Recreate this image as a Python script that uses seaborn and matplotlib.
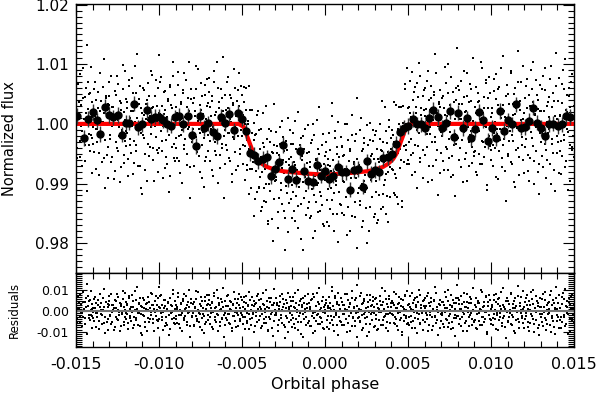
import matplotlib
matplotlib.use("Agg")
import matplotlib.pyplot as plt
import numpy as np
import pandas as pd
import seaborn as sns
from matplotlib.ticker import MultipleLocator, FormatStrFormatter

# Transit model
model_phase = [-0.015, -0.0052, -0.0049, -0.0047, -0.0045, -0.0043, -0.0041, -0.0038, -0.0035,
               -0.0030, -0.0025, -0.0020, -0.0010, 0.0, 0.0010, 0.0020, 0.0025, 0.0030, 0.0035,
               0.0038, 0.0041, 0.0043, 0.0045, 0.0047, 0.0049, 0.0052, 0.015]
model_flux = [1.0, 1.0, 0.9995, 0.9980, 0.9965, 0.9950, 0.9941, 0.9933, 0.9928,
              0.9923, 0.99205, 0.9919, 0.99165, 0.9915, 0.99165, 0.9919, 0.99205, 0.9923, 0.9928,
              0.9933, 0.9941, 0.9950, 0.9965, 0.9980, 0.9995, 1.0, 1.0]

# Binned points (big black dots)
bin_phase = [-0.01494, -0.0145, -0.01426, -0.0140, -0.01375, -0.01353, -0.01325, -0.0130, -0.01275,
             -0.0125, -0.01225, -0.0120, -0.01179, -0.01153, -0.01124, -0.01102, -0.01074, -0.0105,
             -0.01026, -0.0100, -0.00978, -0.00954, -0.00928, -0.00904,
             -0.00878, -0.00853, -0.00827, -0.00801, -0.00777, -0.00753, -0.00727, -0.00703, -0.00677,
             -0.00653, -0.00627, -0.00601, -0.00576, -0.0055, -0.00524, -0.0050, -0.00476, -0.00452,
             -0.00426, -0.00402, -0.00375, -0.00351, -0.00325, -0.00301,
             -0.00279, -0.00251, -0.00225, -0.00199, -0.00175, -0.00151, -0.00124, -0.0010, -0.00074,
             -0.00048, -0.00024, 0.00002, 0.00026, 0.0005, 0.00076, 0.0010, 0.00126, 0.0015,
             0.00176, 0.00201, 0.00227, 0.00251, 0.00277,
             0.00301, 0.00323, 0.00351, 0.00377, 0.00404, 0.00428, 0.00452, 0.00478, 0.00502, 0.00528,
             0.00552, 0.00578, 0.00604, 0.00628, 0.00653, 0.00679, 0.00703, 0.00729, 0.00753,
             0.00779, 0.00803, 0.00829, 0.00853, 0.00879, 0.00904,
             0.00926, 0.0095, 0.0098, 0.01004, 0.0103, 0.01054, 0.01078, 0.01104, 0.01126,
             0.01153, 0.01179, 0.01203, 0.01227, 0.01251, 0.01277, 0.01303, 0.01327, 0.01351,
             0.01375, 0.01402, 0.01428, 0.01452, 0.01478]
bin_flux = [1.0013, 0.9976, 1.0008, 1.0020, 1.0006, 0.9983, 1.0029, 1.0015, 1.0011,
            1.0015, 0.9982, 1.0002, 1.0002, 1.0034, 0.9994, 0.9999, 1.0023, 1.0008,
            1.0012, 1.0012, 1.0006, 0.9999, 0.9997, 1.0011,
            1.0013, 0.9999, 1.0013, 0.9981, 0.9963, 1.0014, 0.9993, 1.0001, 0.9986,
            0.9980, 1.0012, 1.0001, 1.0016, 0.9989, 1.0018, 1.0009, 0.9988, 0.9951,
            0.9948, 0.9938, 0.9941, 0.9944, 0.9912, 0.9924,
            0.99356, 0.99644, 0.99078, 0.99244, 0.99067, 0.99539, 0.99217, 0.99039, 0.99033,
            0.99317, 0.99133, 0.99206, 0.99078, 0.99133, 0.99272, 0.99189, 0.99189, 0.98900,
            0.99228, 0.99244, 0.98950, 0.99372, 0.99161,
            0.99228, 0.99189, 0.99422, 0.99439, 0.99494, 0.99661, 0.99856, 0.99939, 0.99967, 1.00078,
            0.99994, 0.99994, 0.99939, 1.00106, 1.00233, 1.00117, 0.99928, 1.00022, 1.00217,
            0.99783, 1.00189, 0.99928, 1.00094, 0.99761, 0.99911,
            1.00206, 1.00061, 0.99717, 0.99928, 0.99756, 1.00217, 0.99883, 1.00061, 0.99994,
            1.00328, 0.99939, 0.99950, 1.00050, 1.00272, 1.00022, 0.99928, 0.99800, 0.99994,
            1.00006, 0.99967, 0.99994, 1.00133, 1.00117]
bin_err = 0.0013

# Individual measurements: phase (units of 1e-4) and residual from the model (units of 1e-4)
raw_phase_e4 = [
    -149.8, -149.3, -148.7, -148.2, -147.6, -147.1, -146.4, -145.9, -145.5, -144.8, -144.3, -143.9, -143.2, -142.6, -142.1, -141.7, -141.0, -140.6, -140.3, -140.1,
    -139.7, -139.2, -138.8, -138.1, -137.7, -137.2, -136.5, -136.1, -135.4, -135.0, -134.6, -133.9, -133.3, -132.9, -132.4, -131.8, -131.3, -130.9, -130.5, -130.2,
    -129.9, -129.4, -128.9, -128.3, -127.8, -127.4, -126.7, -126.2, -125.8, -125.3, -124.7, -124.2, -123.6, -123.1, -122.7, -122.0, -121.6, -121.1, -120.7, -120.2,
    -119.8, -119.2, -118.7, -118.3, -117.7, -117.2, -116.8, -116.1, -115.6, -115.2, -114.6, -114.1, -113.7, -113.0, -112.5, -112.1, -111.4, -111.0, -110.6, -110.1,
    -109.7, -109.3, -108.8, -108.2, -107.6, -107.2, -106.7, -106.3, -105.6, -105.1, -104.7, -104.1, -103.6, -103.2, -102.7, -102.1, -101.5, -101.1, -100.6, -100.2,
    -99.8, -99.4, -98.7, -98.2, -97.8, -97.3, -96.6, -96.2, -95.7, -95.1, -94.7, -94.2, -93.6, -93.1, -92.7, -92.2, -91.5, -91.1, -90.6, -90.3,
    -89.9, -89.3, -88.9, -88.4, -87.8, -87.3, -86.9, -86.2, -85.7, -85.2, -84.8, -84.3, -83.7, -83.1, -82.6, -82.2, -81.7, -81.1, -80.7, -80.2,
    -79.8, -79.2, -78.8, -78.3, -77.7, -77.3, -76.8, -76.2, -75.6, -75.2, -74.7, -74.1, -73.7, -73.2, -72.6, -72.1, -71.7, -71.2, -70.6, -70.2,
    -69.7, -69.3, -68.7, -68.2, -67.8, -67.3, -66.7, -66.2, -65.8, -65.3, -64.7, -64.2, -63.8, -63.2, -62.7, -62.2, -61.8, -61.3, -60.8, -60.2,
    -59.8, -59.3, -58.7, -58.3, -57.8, -57.2, -56.8, -56.3, -55.7, -55.2, -54.8, -54.3, -53.8, -53.2, -52.7, -52.3, -51.8, -51.2, -50.8, -50.3,
    -49.7, -49.2, -48.8, -48.3, -47.7, -47.3, -46.8, -46.2, -45.8, -45.3, -44.7, -44.2, -43.8, -43.3, -42.8, -42.2, -41.7, -41.3, -40.8, -40.2,
    -39.8, -39.2, -38.7, -38.3, -37.8, -37.2, -36.8, -36.3, -35.7, -35.3, -34.8, -34.3, -33.7, -33.2, -32.8, -32.2, -31.7, -31.3, -30.8, -30.3,
    -29.7, -29.3, -28.8, -28.2, -27.7, -27.3, -26.8, -26.2, -25.8, -25.3, -24.7, -24.2, -23.8, -23.3, -22.8, -22.2, -21.8, -21.3, -20.7, -20.2,
    -19.8, -19.3, -18.7, -18.2, -17.8, -17.3, -16.7, -16.2, -15.8, -15.3, -14.7, -14.2, -13.8, -13.3, -12.8, -12.2, -11.8, -11.3, -10.7, -10.2,
    -9.7, -9.3, -8.8, -8.2, -7.7, -7.3, -6.8, -6.3, -5.7, -5.2, -4.8, -4.3, -3.7, -3.2, -2.8, -2.3, -1.8, -1.2, -0.7, -0.3,
    0.2, 0.7, 1.3, 1.8, 2.2, 2.7, 3.3, 3.8, 4.2, 4.7, 5.3, 5.7, 6.2, 6.8, 7.2, 7.7, 8.3, 8.8, 9.2, 9.7,
    10.3, 10.8, 11.2, 11.7, 12.3, 12.8, 13.2, 13.7, 14.3, 14.8, 15.2, 15.7, 16.3, 16.8, 17.2, 17.8, 18.3, 18.7, 19.2, 19.8,
    20.2, 20.8, 21.3, 21.7, 22.2, 22.8, 23.3, 23.7, 24.2, 24.8, 25.3, 25.7, 26.2, 26.8, 27.3, 27.7, 28.2, 28.8, 29.3, 29.7,
    30.3, 30.7, 31.2, 31.8, 32.3, 32.7, 33.2, 33.8, 34.3, 34.7, 35.2, 35.8, 36.2, 36.7, 37.3, 37.8, 38.2, 38.7, 39.3, 39.8,
    40.2, 40.7, 41.3, 41.8, 42.2, 42.7, 43.3, 43.8, 44.2, 44.7, 45.3, 45.8, 46.2, 46.7, 47.3, 47.8, 48.2, 48.7, 49.3, 49.8,
    50.3, 50.8, 51.2, 51.7, 52.3, 52.8, 53.2, 53.7, 54.3, 54.8, 55.2, 55.7, 56.3, 56.8, 57.2, 57.7, 58.3, 58.8, 59.2, 59.7,
    60.2, 60.8, 61.3, 61.7, 62.2, 62.8, 63.3, 63.7, 64.2, 64.8, 65.3, 65.7, 66.2, 66.8, 67.3, 67.7, 68.2, 68.8, 69.3, 69.7,
    70.3, 70.7, 71.2, 71.8, 72.3, 72.7, 73.2, 73.8, 74.3, 74.7, 75.2, 75.8, 76.3, 76.7, 77.2, 77.8, 78.3, 78.7, 79.2, 79.8,
    80.2, 80.8, 81.3, 81.7, 82.2, 82.8, 83.3, 83.7, 84.2, 84.8, 85.3, 85.7, 86.2, 86.8, 87.3, 87.7, 88.2, 88.8, 89.3, 89.7,
    90.3, 90.7, 91.2, 91.8, 92.3, 92.7, 93.2, 93.8, 94.3, 94.7, 95.2, 95.8, 96.3, 96.7, 97.2, 97.8, 98.3, 98.7, 99.2, 99.8,
    100.2, 100.8, 101.3, 101.7, 102.2, 102.8, 103.3, 103.7, 104.2, 104.8, 105.3, 105.7, 106.2, 106.8, 107.3, 107.7, 108.2, 108.8, 109.3, 109.7,
    110.3, 110.7, 111.2, 111.8, 112.3, 112.7, 113.2, 113.8, 114.3, 114.7, 115.2, 115.8, 116.3, 116.7, 117.2, 117.8, 118.3, 118.7, 119.2, 119.8,
    120.2, 120.8, 121.3, 121.7, 122.2, 122.8, 123.3, 123.7, 124.2, 124.8, 125.3, 125.7, 126.2, 126.8, 127.3, 127.7, 128.2, 128.8, 129.3, 129.7,
    130.3, 130.7, 131.2, 131.8, 132.3, 132.7, 133.2, 133.8, 134.3, 134.7, 135.2, 135.8, 136.3, 136.7, 137.2, 137.8, 138.3, 138.7, 139.2, 139.8,
    140.2, 140.8, 141.3, 141.7, 142.2, 142.8, 143.3, 143.7, 144.2, 144.8, 145.3, 145.7, 146.2, 146.8, 147.3, 147.7, 148.2, 148.8, 149.3, 149.7,
    # second pass over the phase range
    -149.6, -149.0, -148.5, -147.9, -147.4, -146.8, -146.2, -145.7, -145.1, -144.6, -144.0, -143.5, -142.9, -142.3, -141.9, -141.4, -140.9, -140.8, -140.5, -149.9,
    -139.5, -139.0, -138.4, -137.9, -137.4, -136.8, -136.3, -135.7, -135.2, -134.8, -134.2, -133.6, -133.1, -132.6, -132.1, -131.5, -131.0, -130.7, -130.4, -139.9,
    -129.6, -129.1, -128.6, -128.1, -127.5, -127.0, -126.5, -126.0, -125.5, -125.0, -124.5, -123.9, -123.4, -122.9, -122.4, -121.8, -121.3, -120.9, -120.4, -120.1,
    -119.6, -119.0, -118.5, -118.0, -117.5, -117.0, -116.4, -115.9, -115.4, -114.9, -114.4, -113.9, -113.3, -112.8, -112.3, -111.8, -111.3, -110.8, -110.4, -119.4,
    -109.5, -109.0, -108.5, -108.0, -107.4, -106.9, -106.5, -105.9, -105.4, -104.9, -104.4, -103.9, -103.4, -102.9, -102.4, -101.9, -101.3, -100.8, -100.4, -100.0,
    -99.6, -99.1, -98.5, -98.0, -97.5, -97.0, -96.4, -95.9, -95.4, -94.9, -94.4, -93.9, -93.4, -92.9, -92.4, -91.9, -91.3, -90.9, -90.4, -90.0,
    -89.6, -89.1, -88.6, -88.1, -87.6, -87.0, -86.5, -86.0, -85.5, -85.0, -84.5, -84.0, -83.4, -82.9, -82.4, -81.9, -81.4, -80.9, -80.4, -80.0,
    -79.5, -79.0, -78.5, -78.0, -77.5, -77.0, -76.5, -76.0, -75.4, -74.9, -74.4, -73.9, -73.4, -72.9, -72.4, -71.9, -71.4, -70.9, -70.4, -70.0,
    -69.5, -69.0, -68.5, -68.0, -67.5, -67.0, -66.5, -66.0, -65.5, -65.0, -64.5, -64.0, -63.5, -63.0, -62.5, -62.0, -61.5, -61.0, -60.5, -60.0,
    -59.5, -59.0, -58.5, -58.0, -57.5, -57.0, -56.5, -56.0, -55.5, -55.0, -54.5, -54.0, -53.5, -53.0, -52.5, -52.0, -51.5, -51.0, -50.5, -50.0,
    -49.5, -49.0, -48.5, -48.0, -47.5, -47.0, -46.5, -46.0, -45.5, -45.0, -44.5, -44.0, -43.5, -43.0, -42.5, -42.0, -41.5, -41.0, -40.5, -40.0,
    -39.5, -39.0, -38.5, -38.0, -37.5, -37.0, -36.5, -36.0, -35.5, -35.0, -34.5, -34.0, -33.5, -33.0, -32.5, -32.0, -31.5, -31.0, -30.5, -30.0,
    -29.5, -29.0, -28.5, -28.0, -27.5, -27.0, -26.5, -26.0, -25.5, -25.0, -24.5, -24.0, -23.5, -23.0, -22.5, -22.0, -21.5, -21.0, -20.5, -20.0,
    -19.5, -19.0, -18.5, -18.0, -17.5, -17.0, -16.5, -16.0, -15.5, -15.0, -14.5, -14.0, -13.5, -13.0, -12.5, -12.0, -11.5, -11.0, -10.5, -10.0,
    -9.5, -9.0, -8.5, -8.0, -7.5, -7.0, -6.5, -6.0, -5.5, -5.0, -4.5, -4.0, -3.5, -3.0, -2.5, -2.0, -1.5, -1.0, -0.5, 0.0,
    0.5, 1.0, 1.5, 2.0, 2.5, 3.0, 3.5, 4.0, 4.5, 5.0, 5.5, 6.0, 6.5, 7.0, 7.5, 8.0, 8.5, 9.0, 9.5, 10.0,
    10.5, 11.0, 11.5, 12.0, 12.5, 13.0, 13.5, 14.0, 14.5, 15.0, 15.5, 16.0, 16.5, 17.0, 17.5, 18.0, 18.5, 19.0, 19.5, 20.0,
    20.5, 21.0, 21.5, 22.0, 22.5, 23.0, 23.5, 24.0, 24.5, 25.0, 25.5, 26.0, 26.5, 27.0, 27.5, 28.0, 28.5, 29.0, 29.5, 30.0,
    30.5, 31.0, 31.5, 32.0, 32.5, 33.0, 33.5, 34.0, 34.5, 35.0, 35.5, 36.0, 36.5, 37.0, 37.5, 38.0, 38.5, 39.0, 39.5, 40.0,
    40.5, 41.0, 41.5, 42.0, 42.5, 43.0, 43.5, 44.0, 44.5, 45.0, 45.5, 46.0, 46.5, 47.0, 47.5, 48.0, 48.5, 49.0, 49.5, 50.0,
    50.5, 51.0, 51.5, 52.0, 52.5, 53.0, 53.5, 54.0, 54.5, 55.0, 55.5, 56.0, 56.5, 57.0, 57.5, 58.0, 58.5, 59.0, 59.5, 60.0,
    60.5, 61.0, 61.5, 62.0, 62.5, 63.0, 63.5, 64.0, 64.5, 65.0, 65.5, 66.0, 66.5, 67.0, 67.5, 68.0, 68.5, 69.0, 69.5, 70.0,
    70.5, 71.0, 71.5, 72.0, 72.5, 73.0, 73.5, 74.0, 74.5, 75.0, 75.5, 76.0, 76.5, 77.0, 77.5, 78.0, 78.5, 79.0, 79.5, 80.0,
    80.5, 81.0, 81.5, 82.0, 82.5, 83.0, 83.5, 84.0, 84.5, 85.0, 85.5, 86.0, 86.5, 87.0, 87.5, 88.0, 88.5, 89.0, 89.5, 90.0,
    90.5, 91.0, 91.5, 92.0, 92.5, 93.0, 93.5, 94.0, 94.5, 95.0, 95.5, 96.0, 96.5, 97.0, 97.5, 98.0, 98.5, 99.0, 99.5, 100.0,
    100.5, 101.0, 101.5, 102.0, 102.5, 103.0, 103.5, 104.0, 104.5, 105.0, 105.5, 106.0, 106.5, 107.0, 107.5, 108.0, 108.5, 109.0, 109.5, 110.0,
    110.5, 111.0, 111.5, 112.0, 112.5, 113.0, 113.5, 114.0, 114.5, 115.0, 115.5, 116.0, 116.5, 117.0, 117.5, 118.0, 118.5, 119.0, 119.5, 120.0,
    120.5, 121.0, 121.5, 122.0, 122.5, 123.0, 123.5, 124.0, 124.5, 125.0, 125.5, 126.0, 126.5, 127.0, 127.5, 128.0, 128.5, 129.0, 129.5, 130.0,
    130.5, 131.0, 131.5, 132.0, 132.5, 133.0, 133.5, 134.0, 134.5, 135.0, 135.5, 136.0, 136.5, 137.0, 137.5, 138.0, 138.5, 139.0, 139.5, 140.0,
    140.5, 141.0, 141.5, 142.0, 142.5, 143.0, 143.5, 144.0, 144.5, 145.0, 145.5, 146.0, 146.5, 147.0, 147.5, 148.0, 148.5, 149.0, 149.5, 149.9,
]
raw_resid_e4 = [
    23, -41, 67, 8, -55, 31, -12, 94, -27, 45, -63, 18, 133, 71, -36, 52, -19, 36, -82, 11,
    -33, 58, 14, -76, 40, -9, 27, -48, 85, 3, -21, 62, -58, 19, -107, 44, -2, 33, -39, 71,
    47, -18, -64, 29, 7, -92, 55, -31, 16, 81, -45, -6, 38, -73, 24, -14, 99, -52, 6, -28,
    -12, 36, -87, 63, -25, 10, -49, 77, 21, -66, 4, 52, -35, 118, -9, 41, -71, 26, -15, -118,
    61, -23, 15, -51, 34, -96, 7, 46, -38, 89, -17, 27, -60, 12, -4, 73, -44, 30, -81, 19,
    -41, 16, 79, -28, -3, 53, -74, 24, -56, 11, 42, -19, 65, -88, 31, -7, 104, -33, 48, -62,
    28, -57, 9, 66, -20, -83, 37, -11, 51, -42, 85, -26, 13, -69, 44, -5, 22, -124, 58, -30,
    -8, 44, -70, 21, 97, -37, 5, -53, 32, -15, 68, -91, 17, -24, 49, -63, 2, 76, -46, 35,
    54, -29, 13, -77, 38, -6, 88, -45, 20, -14, 61, -99, 27, -52, 8, 43, -34, 112, -21, -67,
    -36, 71, -15, 26, -58, 49, 3, -84, 35, -22, 92, -47, 14, -9, 57, -71, 30, -40, 66, -18,
    18, -62, 43, -27, 75, -10, -48, 31, -89, 56, 4, -35, 68, -16, 24, -73, 39, -5, -54, 83,
    -44, 22, -81, 57, -13, 36, -60, 9, 101, -29, 47, -95, 15, -38, 63, -7, 28, -120, 41, -19,
    63, -17, 29, -70, 8, 45, -33, 84, -56, 19, -2, -78, 52, -24, 37, -101, 12, 70, -45, 26,
    -21, 48, -64, 13, 86, -39, 5, -93, 31, -11, 59, -52, 22, -128, 40, -6, 75, -30, 17, -58,
    37, -74, 11, 52, -26, -108, 66, -4, 23, -47, 90, -15, 34, -61, 7, -36, 49, -83, 18, 3,
    -9, 55, -42, 26, -87, 14, 41, -23, 97, -66, 3, -31, 72, -18, 45, -115, 29, -50, 10, 62,
    46, -13, -69, 31, 8, -40, 83, -57, 20, -97, 36, -2, 64, -28, 15, -75, 52, -10, 125, -35,
    -27, 71, -48, 6, -92, 38, -16, 57, -34, 13, -121, 44, -7, 80, -61, 25, -3, 49, -79, 19,
    58, -20, 33, -86, 11, -45, 74, -5, 27, -67, 42, -31, 99, -14, -53, 21, -98, 60, -9, 38,
    -15, 41, -58, 92, -30, 17, -74, 35, -8, 66, -42, 24, -103, 53, -19, 9, 78, -36, -63, 30,
    32, -66, 19, -24, 87, -49, 6, 54, -81, 28, -11, 69, -37, 102, -58, 15, -3, 47, -90, 23,
    -52, 25, 72, -17, -98, 40, -6, 63, -31, 11, -71, 48, -22, 86, -44, 7, -119, 34, 56, -13,
    44, -9, -63, 27, 95, -38, 14, -77, 51, -26, 3, 79, -54, 20, -85, 37, -17, 61, -33, 128,
    -23, 56, -40, 9, -73, 33, -4, 88, -59, 21, 46, -95, 13, -30, 67, -12, 39, -66, 5, -47,
    29, -81, 62, -14, 37, -50, 8, 104, -28, -68, 19, 45, -39, 73, -6, -111, 26, -20, 52, -43,
    -61, 18, -35, 76, 3, -89, 42, -17, 58, -46, 25, -8, 93, -72, 31, -26, 11, -129, 47, 65,
    50, -28, 7, -64, 85, -19, 33, -97, 16, 61, -44, -3, 122, -55, 24, -12, 70, -36, 9, -82,
    -38, 64, -11, 27, -79, 48, -57, 5, 91, -24, 36, -101, 15, -46, 73, -2, 40, -68, 21, -15,
    22, -53, 81, -7, -34, 56, -90, 30, -16, 45, 12, -67, 97, -25, -48, 38, 4, -113, 63, -21,
    -30, 77, -45, 14, -84, 35, -2, 59, -27, 108, -62, 20, -13, 46, -96, 28, 71, -39, 9, -55,
    # second pass over the phase range
    -58, 12, 37, -29, 84, -3, -71, 44, 9, -36, 61, -112, 25, -17, 50, -45, 7, 96, -24, 33,
    15, -47, 70, -8, -31, 53, -86, 22, -13, 39, -64, 4, 108, -27, 46, -52, 19, -90, 31, -5,
    -26, 81, -3, -55, 29, 14, -79, 48, -40, 6, 67, -21, -98, 35, -11, 58, -66, 20, 88, -37,
    42, -16, -59, 73, -35, 22, -4, -84, 51, -28, 97, -46, 10, -70, 34, -9, 63, -107, 18, 27,
    -19, 56, -77, 8, 40, -33, 69, -54, 13, -6, 82, -41, 29, -95, 47, -22, 3, 61, -48, 116,
    71, -12, -45, 30, -90, 17, 55, -27, 4, -68, 38, -115, 62, -8, 26, -39, 81, -57, 11, -23,
    -40, 19, 87, -63, 6, 33, -18, -99, 57, -35, 12, 74, -51, 28, -8, 103, -73, 41, -26, -2,
    35, -71, 14, -22, 58, -47, 92, -9, -80, 24, -36, 47, -13, -106, 66, 9, -55, 30, -18, 77,
    -63, 28, -9, 46, -88, 71, -30, 15, -52, 103, -17, 37, -74, 5, 58, -41, 22, -125, 49, -11,
    24, -43, 79, -15, -62, 8, 44, -97, 31, -26, 60, -4, -78, 39, -20, 85, -49, 17, -8, 52,
    -31, 67, -86, 12, 40, -57, 23, -14, 94, -40, -69, 28, -5, 51, -103, 36, -22, 74, 8, -46,
    53, -24, 10, -72, 86, -38, 31, -6, -59, 18, -91, 65, -28, 44, -13, -84, 27, 109, -50, 3,
    -12, 41, -97, 26, -46, 73, -20, 5, 58, -67, 34, -131, 16, -35, 90, -53, 21, -8, 47, -76,
    66, -33, 18, -82, 39, -7, 101, -55, -24, 47, -110, 29, -14, 62, -41, 8, -69, 35, -2, 81,
    -47, 20, -71, 57, -10, 84, -36, -95, 26, -18, 43, -63, 112, -29, 14, -52, 68, -4, -87, 31,
    38, -79, 16, -25, 70, -58, 5, 119, -43, 24, -96, 61, -11, 33, -67, 87, -30, 10, -52, 45,
    -66, 29, -14, 82, -39, 7, -104, 55, -25, 41, -8, -72, 96, -33, 18, -49, 64, -126, 23, -3,
    12, -55, 90, -20, 35, -83, 48, -6, -61, 77, -29, 19, -100, 52, -15, 28, -44, 67, -9, -74,
    -37, 64, -90, 16, -5, 48, -70, 29, 111, -46, 8, -24, 57, -83, 36, -13, 73, -59, 21, -1,
    50, -18, 27, -65, 84, -41, 13, -92, 39, -7, 60, -33, -116, 22, -48, 71, -26, 5, 98, -57,
    -28, 73, -52, 11, -85, 40, -3, 62, -36, 18, -107, 45, -15, 80, -64, 27, -9, -44, 56, 14,
    61, -9, -39, 88, -70, 24, -17, 43, -94, 6, 54, -31, 117, -60, 19, -4, 36, -82, 29, -48,
    -20, 46, -77, 15, -5, 69, -42, 100, -58, 31, -13, -89, 25, 54, -35, 8, -121, 40, -26, 63,
    33, -61, 9, 72, -27, -98, 45, -13, 20, -48, 85, -6, -71, 37, -19, 58, -39, 110, -54, 2,
    -45, 18, -86, 51, -12, 39, -67, 6, 94, -31, -55, 26, -4, 69, -102, 43, -21, 78, -37, 12,
    27, -70, 55, -16, -41, 84, -8, -93, 32, 62, -27, 10, -58, 114, -35, 21, -79, 47, -3, -50,
    -54, 34, -12, 89, -68, 15, -29, 50, -105, 26, -7, 71, -41, -85, 38, 6, -22, 97, -60, 19,
    44, -25, 76, -52, 8, -96, 30, -14, 59, -37, 103, -63, 17, -6, 48, -81, 25, -118, 65, -30,
    -16, 58, -73, 21, 94, -44, 3, -61, 37, -9, 76, -100, 28, -33, 52, -77, 14, 119, -48, 9,
    39, -82, 15, -29, 67, -53, 90, -18, -72, 24, 48, -8, -110, 61, -36, 12, 83, -44, -21, 30,
]

raw = pd.DataFrame({"phase": np.array(raw_phase_e4) * 1e-4,
                    "resid": np.array(raw_resid_e4) * 1e-4})
raw["flux"] = np.interp(raw["phase"], model_phase, model_flux) + raw["resid"]

sns.set_style("ticks")
plt.rcParams["font.family"] = ["DejaVu Sans"]
plt.rcParams["text.color"] = "black"
plt.rcParams["axes.labelcolor"] = "black"
plt.rcParams["xtick.color"] = "black"
plt.rcParams["ytick.color"] = "black"

fig = plt.figure(figsize=(6, 3.94), dpi=100)
ax = fig.add_axes([0.1267, 0.3071, 0.83, 0.6827])
axr = fig.add_axes([0.1267, 0.1193, 0.83, 0.1878], sharex=ax)

# top panel
sns.scatterplot(data=raw, x="phase", y="flux", ax=ax, color="black", marker="s",
                s=2.5, linewidth=0, zorder=1)
sns.lineplot(x=model_phase, y=model_flux, ax=ax, color="red", linewidth=3, zorder=2)
ax.errorbar(bin_phase, bin_flux, yerr=bin_err, fmt="o", color="black", ms=5,
            ecolor="0.2", elinewidth=1, capsize=0, zorder=3)
ax.set_xlim(-0.015, 0.015)
ax.set_ylim(0.975, 1.0201)
ax.set_ylabel("Normalized flux", fontsize=10.5)
ax.yaxis.set_label_coords(-0.118, 0.5)
ax.set_xlabel("")
ax.yaxis.set_major_locator(MultipleLocator(0.01))
ax.yaxis.set_minor_locator(MultipleLocator(0.001))
ax.yaxis.set_major_formatter(FormatStrFormatter("%.2f"))
ax.tick_params(labelbottom=False)

# residual panel
axr.axhline(0, color="0.45", linewidth=1.5, zorder=2)
sns.scatterplot(data=raw, x="phase", y="resid", ax=axr, color="black", marker="s",
                s=2.5, linewidth=0, zorder=1)
axr.set_ylim(-0.0175, 0.0185)
axr.set_ylabel("Residuals", fontsize=8.5)
axr.yaxis.set_label_coords(-0.11, 0.5)
axr.set_xlabel("Orbital phase", fontsize=11.5)
axr.yaxis.set_major_locator(MultipleLocator(0.01))
axr.yaxis.set_minor_locator(MultipleLocator(0.001))
axr.yaxis.set_major_formatter(FormatStrFormatter("%.2f"))
axr.xaxis.set_major_locator(MultipleLocator(0.005))
axr.xaxis.set_minor_locator(MultipleLocator(0.001))
axr.xaxis.set_major_formatter(FormatStrFormatter("%.3f"))

for a in (ax, axr):
    a.tick_params(which="both", direction="in", top=True, right=True, width=0.8,
                  color="black", labelcolor="black")
    a.tick_params(which="major", length=8)
    a.tick_params(which="minor", length=4)
    for sp in a.spines.values():
        sp.set_linewidth(1)
        sp.set_color("black")
ax.tick_params(axis="y", labelsize=11, pad=5)
axr.tick_params(axis="y", labelsize=9, pad=5)
axr.tick_params(axis="x", labelsize=11.5, pad=7)

plt.savefig("out.png", dpi=100)
